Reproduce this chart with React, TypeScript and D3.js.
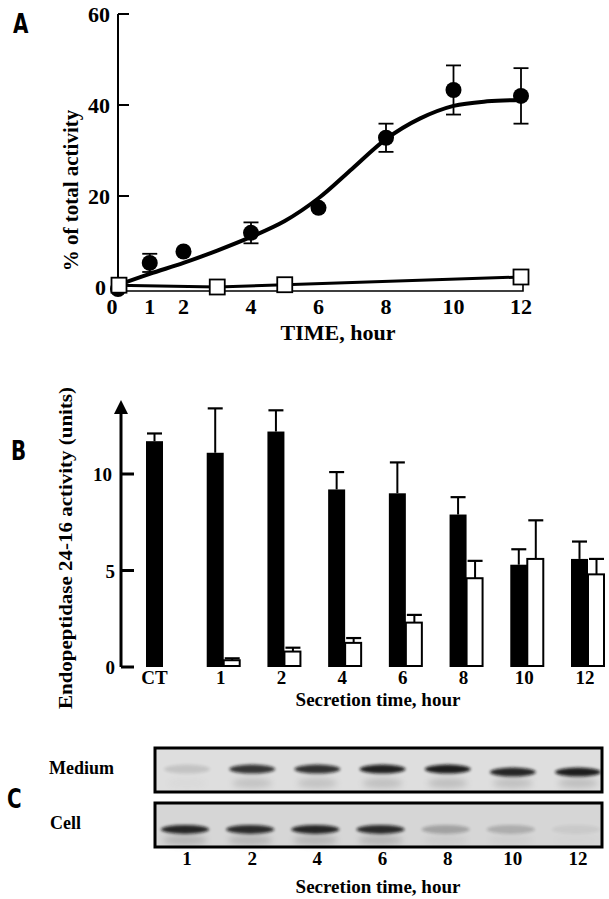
import React from "react";
import * as d3 from "d3";

// ---------- Panel A data ----------
const timesFilled = [0, 1, 2, 4, 6, 8, 10, 12];
const valuesFilled = [0, 5.3, 7.8, 11.9, 17.4, 32.8, 43.3, 42.0];
const errFilled = [0, 2.0, 0, 2.3, 0, 3.1, 5.4, 6.1];
const timesOpen = [0, 3, 5, 12];
const valuesOpen = [0.4, 0.0, 0.5, 2.2];
const fitTimes = [0, 1, 2, 3, 4, 5, 6, 7, 8, 9, 10, 11, 12];
const fitValues = [0.3, 2.9, 5.3, 8.0, 11.0, 14.5, 19.5, 26.0, 32.5, 37.0, 39.8, 40.8, 41.1];
const xTicksA = [0, 1, 2, 4, 6, 8, 10, 12];
const yTicksA = [0, 20, 40, 60];

// ---------- Panel B data ----------
const categoriesB = ["CT", "1", "2", "4", "6", "8", "10", "12"];
const blackValues = [11.7, 11.1, 12.2, 9.2, 9.0, 7.9, 5.3, 5.6];
const blackErrTop = [12.1, 13.4, 13.3, 10.1, 10.6, 8.8, 6.1, 6.5];
const whiteValues = [null, 0.35, 0.8, 1.25, 2.3, 4.6, 5.6, 4.8];
const whiteErrTop = [null, 0.45, 1.0, 1.5, 2.7, 5.5, 7.6, 5.6];
const yTicksB = [0, 5, 10];

// ---------- Panel C data ----------
const lanesC = ["1", "2", "4", "6", "8", "10", "12"];
const mediumIntensity = [0.12, 0.8, 0.82, 0.9, 0.92, 0.88, 0.92];
const cellIntensity = [0.88, 0.85, 0.88, 0.85, 0.25, 0.2, 0.06];

const serif = "'Liberation Serif', 'Times New Roman', serif";
const sansCond = "'DejaVu Sans Condensed', 'Liberation Sans Narrow', 'Liberation Sans', sans-serif";

function PanelLetter({ x, y, children }: { x: number; y: number; children: string }) {
  return (
    <text transform={`translate(${x},${y}) scale(0.82,1)`} fontFamily={sansCond} fontWeight="bold" fontSize={27}>
      {children}
    </text>
  );
}

export default function App() {
  // Panel A scales
  const xA = d3.scaleLinear().domain([0, 12]).range([116, 521]);
  const yA = d3.scaleLinear().domain([0, 60]).range([287, 14]);
  const fitLine = d3
    .line<number>()
    .x((_, i) => xA(fitTimes[i]))
    .y((d) => yA(d))
    .curve(d3.curveCatmullRom.alpha(0.5));
  const openLine = d3
    .line<number>()
    .x((_, i) => xA(timesOpen[i]))
    .y((d) => yA(d));

  // Panel B scales
  const xB = d3.scalePoint<string>().domain(categoriesB).range([141, 566]);
  const yB = d3.scaleLinear().domain([0, 10]).range([667, 474]);
  const bw = 17;

  // Panel C
  const xC = d3.scalePoint<string>().domain(lanesC).range([187, 578]);
  const medTop = 748, medH = 44, cellTop = 803, cellH = 44;

  return (
    <svg width={609} height={899} style={{ position: "absolute", left: 0, top: 0, background: "#fff" }}>
      <defs>
        <filter id="blur" x="-20%" y="-100%" width="140%" height="300%">
          <feGaussianBlur stdDeviation="1.6" />
        </filter>
        <filter id="blur2" x="-20%" y="-100%" width="140%" height="300%">
          <feGaussianBlur stdDeviation="3" />
        </filter>
      </defs>
      <rect x={0} y={0} width={609} height={899} fill="#fff" />

      {/* ================= Panel A ================= */}
      <PanelLetter x={13} y={33}>A</PanelLetter>
      {/* y axis */}
      <line x1={118} x2={118} y1={yA(60)} y2={283} stroke="#000" strokeWidth={2} />
      {yTicksA.map((t) => (
        <g key={t}>
          {t > 0 && <line x1={118} x2={129} y1={yA(t)} y2={yA(t)} stroke="#000" strokeWidth={2} />}
          <text x={t === 0 ? 106 : 110} y={yA(t) + 8} textAnchor="end" fontFamily={serif} fontWeight="bold" fontSize={22}>
            {t}
          </text>
        </g>
      ))}
      <text
        transform={`translate(78,${(yA(0) + yA(60)) / 2 + 40}) rotate(-90)`}
        textAnchor="middle"
        fontFamily={serif}
        fontWeight="bold"
        fontSize={21}
      >
        % of total activity
      </text>
      {/* x axis */}
      <path d={`M118,291 H${xA(12) + 2} V284`} fill="none" stroke="#000" strokeWidth={1.6} />
      {xTicksA.map((t) => (
        <text key={t} x={t === 0 ? xA(t) - 4 : xA(t)} y={314} textAnchor="middle" fontFamily={serif} fontWeight="bold" fontSize={22}>
          {t}
        </text>
      ))}
      <text x={338} y={340} textAnchor="middle" fontFamily={serif} fontWeight="bold" fontSize={22}>
        TIME, hour
      </text>
      {/* fit curve */}
      <path d={fitLine(fitValues) || ""} fill="none" stroke="#000" strokeWidth={4} />
      {/* error bars filled */}
      {timesFilled.map((t, i) =>
        errFilled[i] > 0 ? (
          <g key={"e" + i} stroke="#000" strokeWidth={1.8}>
            <line x1={xA(t)} x2={xA(t)} y1={yA(valuesFilled[i] + errFilled[i])} y2={yA(valuesFilled[i] - errFilled[i])} />
            <line x1={xA(t) - 7.5} x2={xA(t) + 7.5} y1={yA(valuesFilled[i] + errFilled[i])} y2={yA(valuesFilled[i] + errFilled[i])} />
            <line x1={xA(t) - 7.5} x2={xA(t) + 7.5} y1={yA(valuesFilled[i] - errFilled[i])} y2={yA(valuesFilled[i] - errFilled[i])} />
          </g>
        ) : null
      )}
      {timesFilled.map((t, i) => (
        <circle key={"c" + i} cx={xA(t) + (t === 0 ? 2 : 0)} cy={yA(valuesFilled[i]) + (t === 0 ? 2 : 0)} r={8} fill="#000" />
      ))}
      {/* open squares */}
      <path d={openLine(valuesOpen) || ""} fill="none" stroke="#000" strokeWidth={3} />
      {timesOpen.map((t, i) => (
        <rect
          key={"s" + i}
          x={xA(t) - 7.5 + (t === 0 ? 3 : 0)}
          y={yA(valuesOpen[i]) - 7.5}
          width={15}
          height={15}
          fill="#fff"
          stroke="#000"
          strokeWidth={1.8}
        />
      ))}

      {/* ================= Panel B ================= */}
      <PanelLetter x={11} y={460}>B</PanelLetter>
      <line x1={121} x2={121} y1={yB(0)} y2={412} stroke="#000" strokeWidth={3} />
      <path d="M121,400 L114,414 L128,414 Z" fill="#000" />
      {yTicksB.map((t) => (
        <g key={t}>
          <line x1={121} x2={134} y1={yB(t)} y2={yB(t)} stroke="#000" strokeWidth={3} />
          <text x={t === 10 ? 112 : 115} y={yB(t) + 7} textAnchor="end" fontFamily={serif} fontWeight="bold" fontSize={19}>
            {t}
          </text>
        </g>
      ))}
      <text
        transform={`translate(72,548) rotate(-90)`}
        textAnchor="middle"
        fontFamily={serif}
        fontWeight="bold"
        fontSize={19}
        textLength={322}
        lengthAdjust="spacingAndGlyphs"
      >
        Endopeptidase 24-16 activity (units)
      </text>
      {categoriesB.map((c, i) => {
        const x0 = xB(c) as number;
        const bx = x0 + 5;
        const wx = bx + bw;
        return (
          <g key={c}>
            {/* black bar error */}
            <line x1={bx + bw / 2} x2={bx + bw / 2} y1={yB(blackErrTop[i])} y2={yB(blackValues[i])} stroke="#000" strokeWidth={2} />
            <line x1={bx + 1} x2={bx + bw - 1} y1={yB(blackErrTop[i])} y2={yB(blackErrTop[i])} stroke="#000" strokeWidth={2.2} />
            <rect x={bx} y={yB(blackValues[i])} width={bw} height={yB(0) - yB(blackValues[i])} fill="#000" />
            {whiteValues[i] != null && (
              <g>
                <line x1={wx + bw / 2} x2={wx + bw / 2} y1={yB(whiteErrTop[i] as number)} y2={yB(whiteValues[i] as number)} stroke="#000" strokeWidth={2} />
                <line x1={wx + 1} x2={wx + bw - 1} y1={yB(whiteErrTop[i] as number)} y2={yB(whiteErrTop[i] as number)} stroke="#000" strokeWidth={2.2} />
                <rect
                  x={wx}
                  y={yB(whiteValues[i] as number)}
                  width={bw - 1}
                  height={yB(0) - yB(whiteValues[i] as number) - 1}
                  fill="#fff"
                  stroke="#000"
                  strokeWidth={2}
                />
              </g>
            )}
            <text x={c === "CT" ? bx + bw / 2 : wx - 3} y={684} textAnchor="middle" fontFamily={serif} fontWeight="bold" fontSize={19}>
              {c}
            </text>
          </g>
        );
      })}
      <text x={378} y={706} textAnchor="middle" fontFamily={serif} fontWeight="bold" fontSize={19}>
        Secretion time, hour
      </text>

      {/* ================= Panel C ================= */}
      <PanelLetter x={7} y={808}>C</PanelLetter>
      <text x={49} y={774} fontFamily={serif} fontWeight="bold" fontSize={18}>Medium</text>
      <text x={50} y={829} fontFamily={serif} fontWeight="bold" fontSize={18}>Cell</text>
      {/* medium blot */}
      <rect x={155} y={medTop} width={447} height={medH} fill="#dedede" />
      {lanesC.map((l, i) => (
        <g key={"m" + l}>
          <ellipse
            cx={xC(l) as number}
            cy={medTop + medH * 0.48 + (i >= 5 ? 3 : 0)}
            rx={23}
            ry={4.5}
            fill="#111"
            opacity={mediumIntensity[i]}
            filter="url(#blur)"
          />
          <ellipse
            cx={xC(l) as number}
            cy={medTop + medH * 0.8}
            rx={20}
            ry={5}
            fill="#555"
            opacity={mediumIntensity[i] * 0.25}
            filter="url(#blur2)"
          />
        </g>
      ))}
      <rect x={155} y={medTop} width={447} height={medH} fill="none" stroke="#000" strokeWidth={3} />
      {/* cell blot */}
      <rect x={155} y={cellTop} width={447} height={cellH} fill="#d6d6d6" />
      {lanesC.map((l, i) => (
        <g key={"c" + l}>
          <ellipse
            cx={(xC(l) as number) - 2}
            cy={cellTop + cellH * 0.6}
            rx={24}
            ry={4.5}
            fill="#111"
            opacity={cellIntensity[i]}
            filter="url(#blur)"
          />
          <ellipse
            cx={(xC(l) as number) - 2}
            cy={cellTop + cellH * 0.85}
            rx={22}
            ry={5}
            fill="#555"
            opacity={cellIntensity[i] * 0.3}
            filter="url(#blur2)"
          />
        </g>
      ))}
      <rect x={155} y={cellTop} width={447} height={cellH} fill="none" stroke="#000" strokeWidth={3} />
      {lanesC.map((l) => (
        <text key={"t" + l} x={xC(l) as number} y={865} textAnchor="middle" fontFamily={serif} fontWeight="bold" fontSize={19}>
          {l}
        </text>
      ))}
      <text x={378} y={893} textAnchor="middle" fontFamily={serif} fontWeight="bold" fontSize={19}>
        Secretion time, hour
      </text>
    </svg>
  );
}
